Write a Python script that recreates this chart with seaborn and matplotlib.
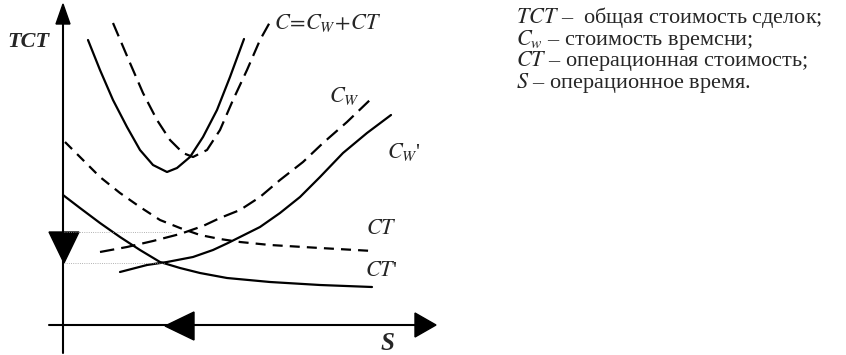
import matplotlib
matplotlib.use("Agg")
import matplotlib.pyplot as plt
import seaborn as sns
import pandas as pd

sns.set_theme(style="white")
plt.rcParams['font.family'] = ['Liberation Serif', 'DejaVu Serif']
plt.rcParams['mathtext.fontset'] = 'stix'

# ---- data (diagram coordinates: x right, y down) ----
c_new_x = [88, 100, 113, 127, 140, 153, 167, 177, 190, 203, 217, 230, 244]
c_new_y = [40, 70, 100, 127, 150, 165, 172, 168, 157, 137, 110, 77, 39]

c_old_x = [113, 130, 143, 157, 170, 183, 193, 207, 220, 233, 247, 260, 270]
c_old_y = [23, 63, 93, 120, 140, 153, 157, 150, 130, 100, 70, 40, 22]

cw_x = [100, 127, 153, 180, 203, 220, 240, 260, 280, 303, 323, 347, 372]
cw_y = [252, 247, 241, 234, 226, 218, 210, 197, 180, 162, 143, 122, 98]

cw2_x = [120, 147, 167, 193, 213, 228, 240, 260, 280, 300, 320, 343, 367, 391]
cw2_y = [272, 265, 262, 257, 250, 243, 237, 227, 213, 197, 177, 153, 133, 115]

ct_x = [65, 80, 100, 120, 140, 160, 180, 200, 220, 240, 270, 320, 373]
ct_y = [142, 157, 177, 193, 207, 220, 228, 235, 239, 242, 245, 248, 251]

ct2_x = [63, 80, 100, 120, 140, 160, 180, 200, 227, 270, 320, 372]
ct2_y = [195, 208, 223, 237, 250, 262, 268, 273, 278, 282, 285, 287]

curve_labels = [r'$C\!=\!C_W\!+\!CT$', r'$C_W$', r"$C_W$'", r'$CT$', r"$CT$'"]
legend_lines = [r'$TCT$ –  общая стоимость сделок;',
                r'$C_w$ – стоимость времсни;',
                r'$CT$ – операционная стоимость;',
                r'$S$ – операционное время.']

fig = plt.figure(figsize=(8.46, 3.55), dpi=100)
ax = fig.add_axes([0, 0, 1, 1])

def draw(x, y, dashes=None, lw=1.6):
    df = pd.DataFrame({'x': x, 'y': y})
    sns.lineplot(data=df, x='x', y='y', ax=ax, sort=False, estimator=None,
                 color='black', lw=lw)
    l = ax.lines[-1]
    if dashes:
        l.set_dashes(dashes)
    l.set_solid_joinstyle('round')
    l.set_dash_capstyle('butt')

draw(c_new_x, c_new_y)
draw(c_old_x, c_old_y, dashes=(6.5, 3.2))
draw(cw_x, cw_y, dashes=(6.5, 3.2))
draw(cw2_x, cw2_y)
draw(ct_x, ct_y, dashes=(4.5, 3.2))
draw(ct2_x, ct2_y)
ax.set_xlim(0, 846)
ax.set_ylim(355, 0)
ax.axis('off')

# axes of the diagram
ax.plot([63, 63], [20, 353], color='black', lw=1.5)
ax.plot([49, 418], [325, 325], color='black', lw=1.5)
ax.fill([56, 70, 63], [24, 24, 4], color='black')            # up arrow
ax.fill([415, 415, 436], [313, 337, 325], color='black')     # right arrow
ax.fill([194, 194, 165], [312, 340, 326], color='black')     # left arrow on S
ax.fill([49, 79, 64], [232, 232, 263], color='black')        # down arrow on TCT
# faint dotted guides
ax.plot([64, 172], [232, 232], color='0.6', lw=0.6, ls=':')
ax.plot([64, 165], [263, 263], color='0.6', lw=0.6, ls=':')

ax.text(7, 42, 'TCT', fontsize=16, fontweight='bold', style='italic',
        va='center', ha='left')
ax.text(381, 343, 'S', fontsize=18, fontweight='bold', style='italic',
        va='center', ha='left')

label_pos = [(274, 23), (329, 96), (387, 152), (366, 230), (365, 272)]
for t, (px, py) in zip(curve_labels, label_pos):
    ax.text(px, py, t, fontsize=16, va='center', ha='left')

ax.text(516, 5, '\n'.join(legend_lines), fontsize=16, va='top', ha='left',
        linespacing=0.86)

fig.savefig('out.png', dpi=100)
